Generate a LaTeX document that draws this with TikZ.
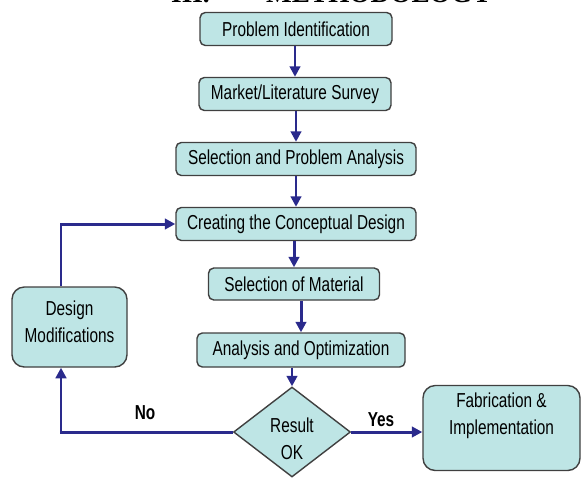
\documentclass[tikz,border=0pt]{standalone}
\usepackage{amsmath}
\usepackage{fontspec}
\setmainfont{Liberation Sans}[FakeStretch=0.76]
\newfontfamily\headfont{Liberation Serif}
\usepackage{tikz}
\usetikzlibrary{shapes.geometric,arrows.meta}
\definecolor{boxfill}{RGB}{190,229,229}
\definecolor{boxline}{RGB}{64,64,64}
\definecolor{flowline}{RGB}{42,42,140}

\begin{document}
\begin{tikzpicture}
				[every node/.style={font=\fontsize{11.5}{15.5}\selectfont},
				stepbox/.style={rectangle,rounded corners=3pt,draw=boxline,line width=0.8pt,fill=boxfill,inner sep=0pt},
				bigbox/.style={stepbox,rounded corners=7pt},
				decide/.style={diamond,draw=boxline,line width=0.8pt,fill=boxfill,inner sep=0pt,minimum width=2.34cm,minimum height=1.8cm},
				flow/.style={draw=flowline,line width=1.7pt,-{Triangle[length=6pt,width=6pt]}}]
				\clip (0,0) rectangle (11.64,-9.66);
				\node[anchor=base west,font=\headfont\bfseries\fontsize{15.5}{18}\selectfont] (h1) at (3.3,-0.05) {III.};
				\node[anchor=base west,font=\headfont\bfseries\fontsize{15.5}{18}\selectfont] (h2) at (5.2,-0.05) {METHODOLOGY};
				
				\node[stepbox,minimum width=3.84cm,minimum height=0.66cm] (pi) at (5.92,-0.58) {Problem Identification};
				\node[stepbox,minimum width=3.84cm,minimum height=0.66cm] (ms) at (5.90,-1.88) {Market/Literature Survey};
				\node[stepbox,minimum width=4.8cm,minimum height=0.66cm] (sp) at (5.92,-3.18) {Selection and Problem Analysis};
				\node[stepbox,minimum width=4.8cm,minimum height=0.66cm] (cd) at (5.92,-4.48) {Creating the Conceptual Design};
				\node[stepbox,minimum width=3.42cm,minimum height=0.64cm] (sm) at (5.88,-5.68) {Selection of Material};
				\node[stepbox,minimum width=4.16cm,minimum height=0.68cm] (ao) at (6.02,-7.00) {Analysis and Optimization};
				\node[decide] (res) at (5.84,-8.64) {};
				\node[align=center] (restxt) at ([yshift=-0.13cm]res.center) {Result\\OK};
				\node[bigbox,minimum width=3.14cm,minimum height=1.7cm] (fab) at (10.03,-8.56) {};
				\node[align=center] (fabtxt) at ([yshift=0.24cm]fab.center) {Fabrication \&\\Implementation};
				\node[bigbox,minimum width=2.3cm,minimum height=1.6cm] (dm) at (1.39,-6.54) {};
				\node[align=center] (dmtxt) at ([yshift=0.11cm]dm.center) {Design\\Modifications};
				\coordinate (lft) at (1.22,0);
				
				\foreach \from/\to in {pi/ms,ms/sp,sp/cd,cd/sm,sm/ao,ao/res}
				\draw[flow] (\to.north |- \from.south) -- (\to.north);
				
				\draw[flow] (res.west) -| (lft |- dm.south);
				\draw[flow] (lft |- dm.north) |- (cd.west);
				\draw[flow] (res.east) -- (res.east -| fab.west);
				\node[font=\bfseries\fontsize{11.5}{13}\selectfont] (no) at (2.9,-8.26) {No};
				\node[font=\bfseries\fontsize{11.5}{13}\selectfont] (yes) at (7.62,-8.4) {Yes};
				\end{tikzpicture}
\end{document}
